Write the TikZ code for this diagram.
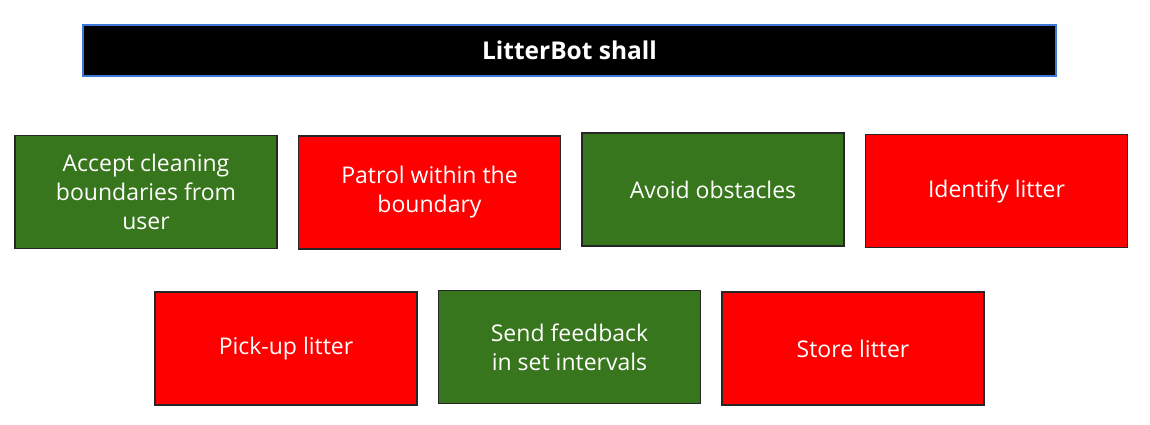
\documentclass[tikz,border=0pt]{standalone}
\usepackage{fontspec}
\setmainfont{Open Sans}
\definecolor{grn}{HTML}{38761D}
\definecolor{rdx}{HTML}{FF0000}
\definecolor{blx}{HTML}{3C78D8}
\tikzset{
    req/.style={draw=black!85,line width=1.2pt,text=white,align=center,inner sep=0pt,
        minimum width=262pt,minimum height=113pt,font=\fontsize{23}{29}\selectfont},
    okreq/.style={req,fill=grn},
    noreq/.style={req,fill=rdx},
    head/.style={draw=blx,line width=1.2pt,fill=black,text=white,inner sep=0pt,
        minimum width=973pt,minimum height=51pt,font=\fontsize{24.5}{28}\selectfont\bfseries}
}
\begin{document}
\begin{tikzpicture}[x=1pt,y=-1pt]
    \useasboundingbox [fill=white] (0,0) rectangle (1150,424);
    \node [head] (shall) at (569.5,50.5) {LitterBot shall};
    % first row
    \node [okreq] (accept) at (146,192) {Accept cleaning\\boundaries from\\user};
    \node [noreq] (patrol) at (429.5,192.5) {Patrol within the\\boundary};
    \node [okreq] (avoid) at (713,189.5) {Avoid obstacles};
    \node [noreq] (identify) at (996.5,191) {Identify litter};
    % second row
    \node [noreq] (pickup) at (286,348.5) {Pick-up litter};
    \node [okreq] (feedback) at (569.5,347) {Send feedback\\in set intervals};
    \node [noreq] (store) at (853,348.5) {Store litter};
\end{tikzpicture}
\end{document}
